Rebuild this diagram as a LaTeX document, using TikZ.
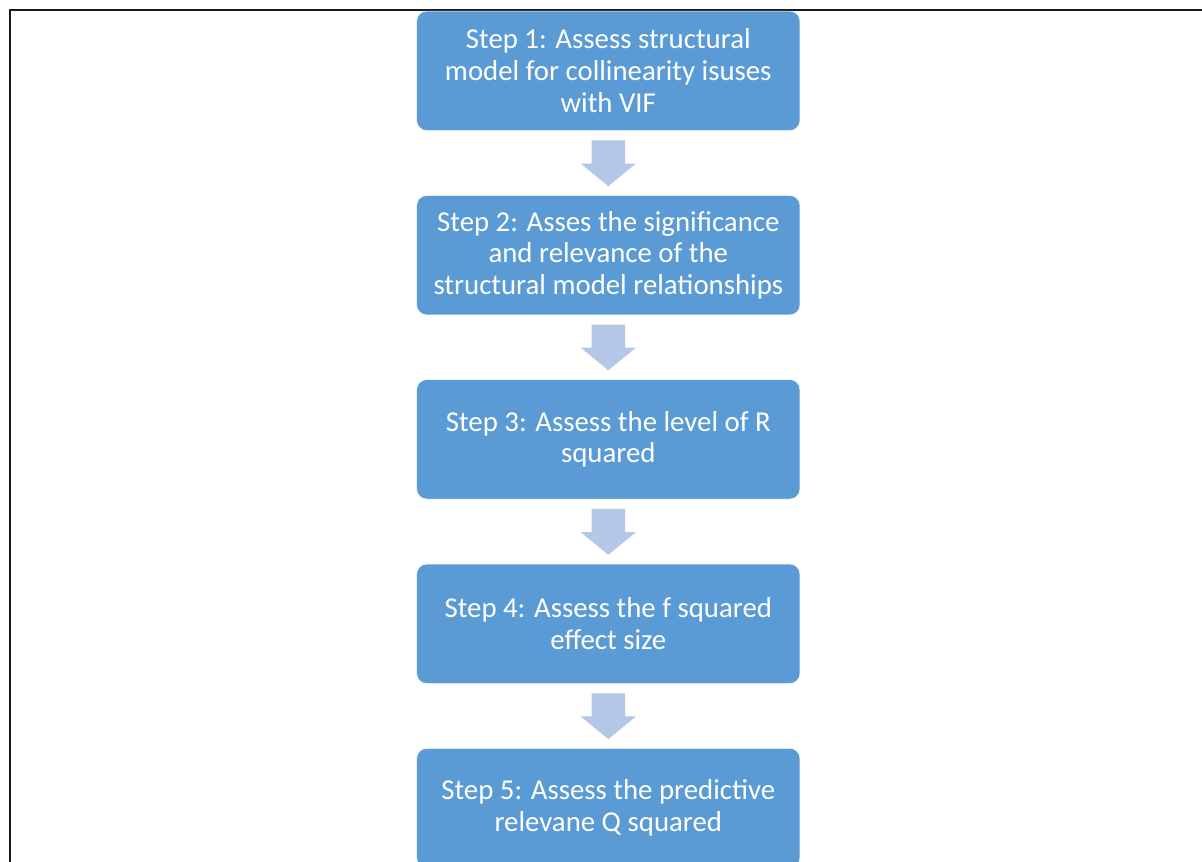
\documentclass[tikz,border=0pt]{standalone}
\usepackage{fontspec}
\setmainfont{Carlito}
\usetikzlibrary{calc}
\definecolor{stepblue}{HTML}{5B9BD5}
\definecolor{arrowblue}{HTML}{B4C7E7}
\begin{document}
\begin{tikzpicture}[x=0.75pt,y=-0.75pt,
  stepbox/.style={rectangle, rounded corners=7.5pt, fill=stepblue, draw=white, line width=0.4pt,
    minimum width=287.5pt, minimum height=89.6pt, inner sep=0pt,
    text=white, align=center, font=\fontsize{21.6pt}{23.8pt}\selectfont},
  flowarrow/.style={fill=arrowblue}]
  \useasboundingbox (0,0) rectangle (1202,861);
  \clip (0,0) rectangle (1202,861);
  \fill[white] (0,0) rectangle (1202,861);
  % page frame
  \draw[line width=1.5pt, black!90] (10,862) -- (10,9.5) -- (1203,9.5);
  % steps
  \node[stepbox] (s1) at (608.3,70.8)  {Step 1: Assess structural\\model for collinearity isuses\\with VIF};
  \node[stepbox] (s2) at (608.3,255.2) {Step 2: Asses the significance\\and relevance of the\\structural model relationships};
  \node[stepbox] (s3) at (608.3,439.3) {Step 3: Assess the level of R\\squared};
  \node[stepbox] (s4) at (608.3,623.8) {Step 4: Assess the f squared\\effect size};
  \node[stepbox] (s5) at (608.3,808.1) {Step 5: Assess the predictive\\relevane Q squared};
  % block arrows between consecutive steps
  \foreach \a/\b in {s1/s2,s2/s3,s3/s4,s4/s5}{
    \fill[flowarrow] ($(\a.south)+(-16.7,9.5)$) -- ($(\b.north)+(-16.7,-31.7)$) -- ++(-11,0)
      -- ($(\b.north)+(0,-9)$) -- ++(27.7,-22.7) -- ++(-11,0)
      -- ($(\a.south)+(16.7,9.5)$) -- cycle;
  }
\end{tikzpicture}
\end{document}
